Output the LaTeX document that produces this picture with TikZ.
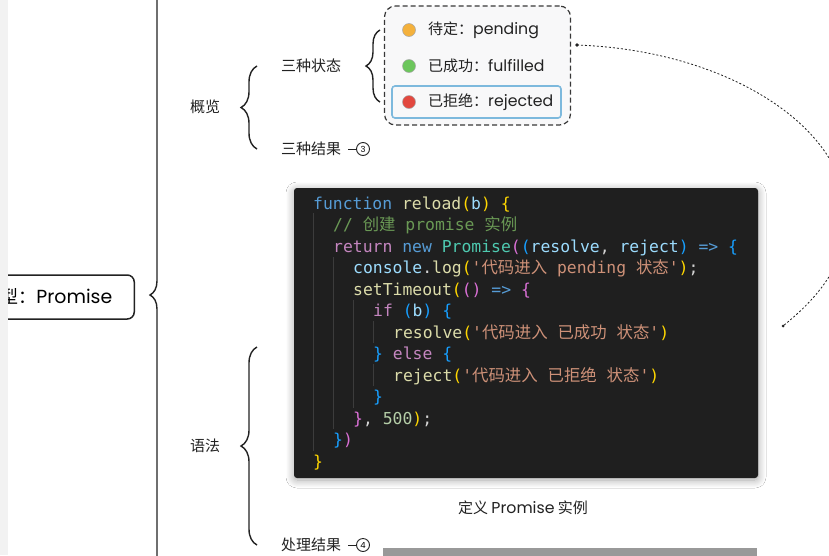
\documentclass[tikz,border=0pt]{standalone}
\usepackage{fontspec}
\setmainfont{Noto Sans CJK SC}
\setmonofont{DejaVu Sans Mono}
\newfontfamily\latin[Scale=1.05]{Poppins}
\newfontfamily\codezh[Scale=1.0]{Noto Sans CJK SC}
\usetikzlibrary{decorations.pathreplacing}
\usetikzlibrary{shadows.blur}

\definecolor{mmline}{HTML}{222222}
\definecolor{boxfill}{HTML}{F8F8F9}
\definecolor{hiline}{HTML}{7DB9DD}
\definecolor{stpend}{HTML}{F4B13C}
\definecolor{stfull}{HTML}{6CC65C}
\definecolor{strej}{HTML}{E2483F}
\definecolor{codebg}{HTML}{1F1F1F}
\definecolor{guide}{HTML}{3C3C3C}
\definecolor{cdtxt}{HTML}{D4D4D4}
\definecolor{cdkw}{HTML}{569CD6}
\definecolor{cdctl}{HTML}{C586C0}
\definecolor{cdfn}{HTML}{DCDCAA}
\definecolor{cdvar}{HTML}{9CDCFE}
\definecolor{cdstr}{HTML}{CE9178}
\definecolor{cdcls}{HTML}{4EC9B0}
\definecolor{cdcom}{HTML}{6A9955}
\definecolor{cdnum}{HTML}{B5CEA8}
\definecolor{brA}{HTML}{FFD700}
\definecolor{brB}{HTML}{DA70D6}
\definecolor{brC}{HTML}{179FFF}

\newcommand\zh[1]{{\codezh #1}}
\newcommand\cb[1]{\textcolor{cdkw}{#1}}
\newcommand\ck[1]{\textcolor{cdctl}{#1}}
\newcommand\cf[1]{\textcolor{cdfn}{#1}}
\newcommand\cv[1]{\textcolor{cdvar}{#1}}
\newcommand\cs[1]{\textcolor{cdstr}{#1}}
\newcommand\ct[1]{\textcolor{cdcls}{#1}}
\newcommand\cc[1]{\textcolor{cdcom}{#1}}
\newcommand\cn[1]{\textcolor{cdnum}{#1}}
\newcommand\bA[1]{\textcolor{brA}{#1}}
\newcommand\bB[1]{\textcolor{brB}{#1}}
\newcommand\bC[1]{\textcolor{brC}{#1}}
\newcommand\mmsize{\fontsize{15}{18}\selectfont}
\newcommand\codesize{\ttfamily\fontsize{16.4}{20}\selectfont}

\tikzset{
  mmtext/.style={anchor=west, inner sep=0pt, font=\mmsize, text=mmline},
  rootbox/.style={draw=mmline, line width=1.5pt, rounded corners=7pt,
    minimum height=44pt, inner xsep=22pt, font=\fontsize{18}{20}\selectfont},
  mmbrace/.style={draw=mmline, line width=1.4pt, decorate,
    decoration={brace, amplitude=#1}},
  mmbrace/.default=16pt,
  numbadge/.style={circle, draw=mmline, line width=0.9pt, minimum size=13pt,
    inner sep=0pt, font=\fontsize{8}{8}\selectfont\latin},
  statebox/.style={draw=mmline!90, line width=1.2pt, dash pattern=on 5pt off 3pt,
    rounded corners=11pt, fill=boxfill},
  hibox/.style={draw=hiline, line width=1.6pt, rounded corners=3pt, fill=boxfill},
  sdot/.style={circle, minimum size=13pt, inner sep=0pt, draw=black!35, line width=0.5pt},
  codebox/.style={fill=codebg, rounded corners=3pt,
    blur shadow={shadow xshift=0pt, shadow yshift=-2pt, shadow blur radius=8pt,
      shadow blur steps=20, shadow opacity=35}},
  codeline/.style={anchor=base west, inner sep=0pt, text=cdtxt, font=\codesize},
  linkline/.style={draw=mmline, line width=0.8pt, dash pattern=on 2pt off 2pt}
}

\begin{document}
\begin{tikzpicture}[x=1pt, y=-1pt]
\useasboundingbox (0,0) rectangle (829,555);
\clip (0,0) rectangle (829,555);
\fill[white] (0,0) rectangle (829,555);

% root and first level
\node[rootbox, anchor=east] (root) at (135,297) {类型：{\latin Promise}};
\fill[black!5] (0,0) rectangle (8,555);
\coordinate (rtop) at (164,-60);
\coordinate (rbot) at (164,650);
\draw[mmbrace=14pt] (rbot) -- (rtop);

\node[mmtext] (gl) at (190,107) {概览};
\node[mmtext] (yf) at (190,446) {语法};

% overview
\node[mmtext] (zt3) at (281,66) {三种状态};
\node[mmtext] (jg3) at (281,149) {三种结果};
\node[numbadge] (n3) at (363,149) {3};
\draw[mmline, line width=1pt, shorten <=7pt] (jg3.east) -- (n3.west);
\draw[mmbrace] ([xshift=-24pt]jg3.west) -- ([xshift=-24pt]zt3.west);

\node[statebox, minimum width=186pt, minimum height=119pt] (states) at (477.5,65.5) {};
\node[hibox, minimum width=169pt, minimum height=32pt] (hi) at (476.5,102) {};
\node[sdot, fill=stpend] (d1) at (409,30) {};
\node[sdot, fill=stfull] (d2) at (409,66) {};
\node[sdot, fill=strej] (d3) at (409,102) {};
\node[mmtext] (s1) at (428,30) {待定：{\latin pending}};
\node[mmtext] (s2) at (428,66) {已成功：{\latin fulfilled}};
\node[mmtext] (s3) at (428,102) {已拒绝：{\latin rejected}};
\draw[mmbrace=14pt] ([xshift=-29pt]d3.center) -- ([xshift=-29pt]d1.center);

% link to the code
\coordinate (lk1) at (577,45);
\coordinate (lkm) at (846,205);
\coordinate (lk2) at (783,326);
\draw[linkline] (lk1) .. controls (720,50) and (836,120) .. (lkm)
  .. controls (852,262) and (815,300) .. (lk2);
\fill[mmline] (lk1) circle (1.8pt) (lk2) circle (1.5pt);

% syntax
\node[codebox, minimum width=464pt, minimum height=290pt] (code) at (526,333) {};
\foreach \gx/\ga/\gb in {313/213/451, 333/257/429, 353/300/408, 373/321/343, 373/364/386}
  \draw[guide, line width=0.8pt] (\gx,\ga) -- (\gx,\gb);
\node[codeline] (c1) at (313,209) {\cb{function} \cf{reload}\bA{(}\cv{b}\bA{)} \bA{\{}};
\node[codeline] (c2) at (333,230.5) {\cc{// \zh{创建} promise \zh{实例}}};
\node[codeline] (c3) at (333,252) {\ck{return} \cb{new} \ct{Promise}\bB{(}\bC{(}\cv{resolve}, \cv{reject}\bC{)} \cb{=>} \bC{\{}};
\node[codeline] (c4) at (353,273.5) {\cv{console}.\cf{log}\bA{(}\cs{'\zh{代码进入} pending \zh{状态}'}\bA{)};};
\node[codeline] (c5) at (353,295) {\cf{setTimeout}\bA{(}\bB{()} \cb{=>} \bB{\{}};
\node[codeline] (c6) at (373,316.5) {\ck{if} \bC{(}\cv{b}\bC{)} \bC{\{}};
\node[codeline] (c7) at (393,338) {\cf{resolve}\bA{(}\cs{'\zh{代码进入} \zh{已成功} \zh{状态}'}\bA{)}};
\node[codeline] (c8) at (373,359.5) {\bC{\}} \ck{else} \bC{\{}};
\node[codeline] (c9) at (393,381) {\cf{reject}\bA{(}\cs{'\zh{代码进入} \zh{已拒绝} \zh{状态}'}\bA{)}};
\node[codeline] (c10) at (373,402.5) {\bC{\}}};
\node[codeline] (c11) at (353,424) {\bB{\}}, \cn{500}\bA{)};};
\node[codeline] (c12) at (333,445.5) {\bC{\}}\bB{)}};
\node[codeline] (c13) at (313,467) {\bA{\}}};
\node[mmtext, anchor=center] (cap) at (523,508) {定义 {\latin Promise} 实例};

\coordinate (img) at (281,347);
\node[mmtext] (cl) at (281,545) {处理结果};
\node[numbadge] (n4) at (363,545) {4};
\draw[mmline, line width=1pt, shorten <=7pt] (cl.east) -- (n4.west);
\draw[mmbrace] ([xshift=-24pt]cl.west) -- ([xshift=-24pt]img);
\fill[black!40] (383,548) rectangle (757,560);
\end{tikzpicture}
\end{document}
